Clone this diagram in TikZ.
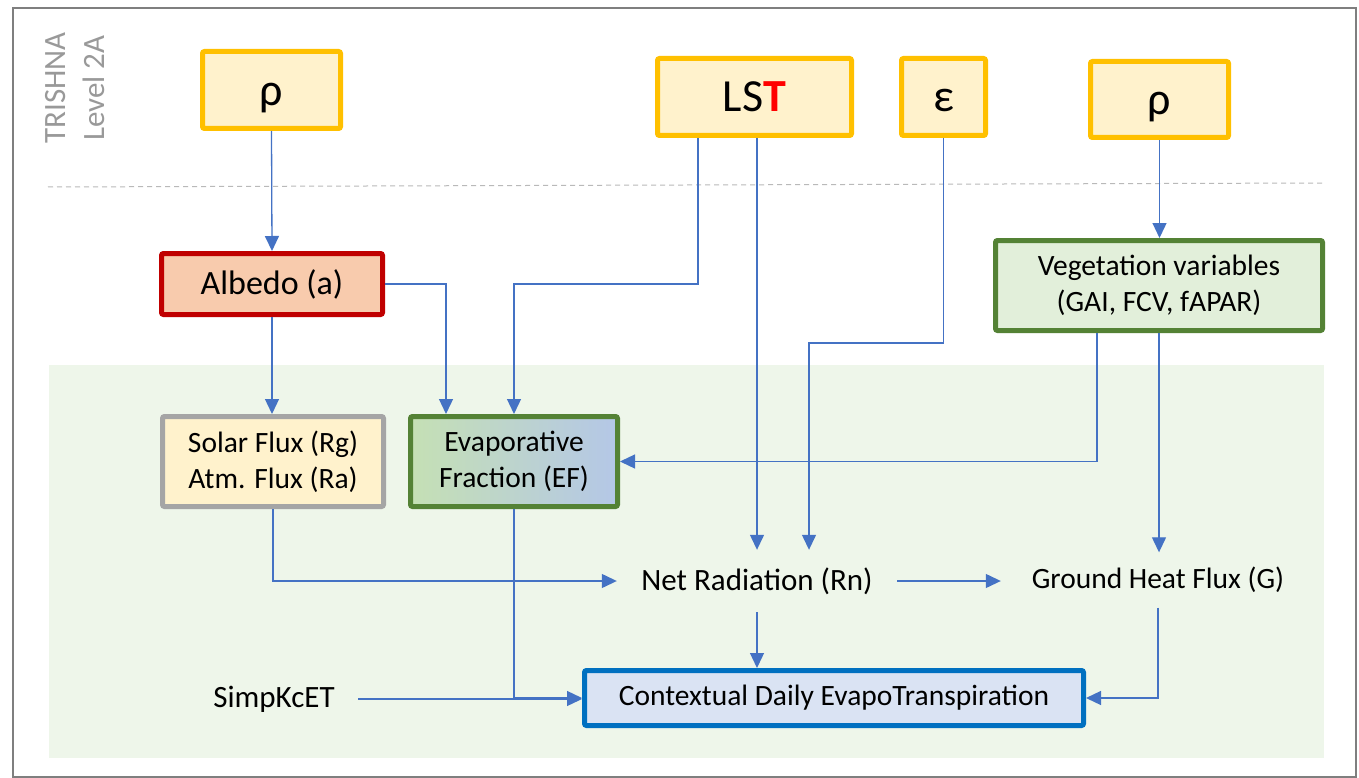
\documentclass[tikz,border=0pt]{standalone}
\usepackage{fontspec}
\setmainfont{Carlito}
\usetikzlibrary{arrows.meta,calc}
\definecolor{inorange}{HTML}{FFC000}
\definecolor{infill}{HTML}{FFF2CC}
\definecolor{albred}{HTML}{C00000}
\definecolor{albfill}{HTML}{F8CBAD}
\definecolor{vgreen}{HTML}{548235}
\definecolor{vfill}{HTML}{E2EFDA}
\definecolor{sgray}{HTML}{A5A5A5}
\definecolor{efleft}{HTML}{C5E0B4}
\definecolor{efright}{HTML}{B4C7E7}
\definecolor{ctxblue}{HTML}{0070C0}
\definecolor{ctxfill}{HTML}{DAE3F3}
\definecolor{arrowblue}{HTML}{4472C4}
\definecolor{bggreen}{HTML}{EEF6EA}
\definecolor{framegray}{HTML}{7F7F7F}
\definecolor{lvlgray}{HTML}{999999}
\definecolor{lstred}{HTML}{FF0000}
\newcommand\fmain{\fontsize{29.5}{36}\selectfont}
\newcommand\fmid{\fontsize{31}{38.5}\selectfont}
\newcommand\falb{\fontsize{34}{40}\selectfont}
\newcommand\fbig{\fontsize{46}{50}\selectfont}
\begin{document}
\begin{tikzpicture}[x=1pt,y=-1pt,
  box/.style={draw, line width=5pt, rounded corners=2pt, align=center, inner sep=0pt, text=black, font=\fmain},
  inbox/.style={box, draw=inorange, fill=infill, minimum height=77pt, font=\fbig},
  conn/.style={draw=arrowblue, line width=1.3pt, -{Triangle[length=15pt,width=14pt]}},
  plain/.style={inner sep=0pt, align=center, text=black, font=\fmain}]
\useasboundingbox (0,0) rectangle (1359,778);
\fill[white] (0,0) rectangle (1359,778);
\fill[bggreen] (49,365) rectangle (1324,758);
\draw[framegray, line width=2pt] (13,8) rectangle (1356,777);
\draw[gray!55, line width=1pt, dash pattern=on 5pt off 4pt] (48,187) -- (1323,183);

\node[rotate=90, align=center, text=lvlgray, inner sep=0pt, font=\fmid] (lvl) at (75,88) {TRISHNA\\Level 2A};

\node[inbox, minimum width=138pt] (rho1) at (271.5,90) {\rule{0pt}{38pt}ρ};
\node[inbox, minimum width=194pt] (LST) at (754.5,97) {LS\textcolor{lstred}{\textbf{T}}};
\node[inbox, minimum width=84pt] (eps) at (943.5,97) {\rule{0pt}{30pt}ε};
\node[inbox, minimum width=138pt, minimum height=76pt] (rho2) at (1159.5,99.5) {\rule{0pt}{38pt}ρ};

\node[box, draw=albred, fill=albfill, minimum width=221pt, minimum height=61pt, font=\falb] (alb) at (272,284) {Albedo (a)};
\node[box, draw=vgreen, fill=vfill, minimum width=327pt, minimum height=90pt] (veg) at (1159,285.5) {Vegetation variables\\(GAI, FCV, fAPAR)};
\node[box, draw=sgray, fill=infill, minimum width=221pt, minimum height=90pt] (sol) at (273,461.5) {Solar Flux (Rg)\\Atm. Flux (Ra)};
\node[box, draw=vgreen, left color=efleft, right color=efright, minimum width=207pt, minimum height=90pt] (EF) at (514,461.5) {Evaporative\\Fraction (EF)};
\node[box, draw=ctxblue, fill=ctxfill, minimum width=499pt, minimum height=55pt] (ctx) at (834,698) {Contextual Daily EvapoTranspiration};

\node[plain, minimum width=280pt, minimum height=62pt, font=\fmid] (NR) at (757,581) {Net Radiation (Rn)};
\node[plain, minimum width=314pt, minimum height=55pt] (GH) at (1158,580) {Ground Heat Flux (G)};
\node[plain, minimum width=168pt, minimum height=40pt, font=\fmid] (sk) at (274,699) {SimpKcET};

\coordinate (b1) at (514,284);
\coordinate (b2) at (809,343);

\draw[conn] (rho1.south) -- (alb.north);
\draw[conn] (alb.south) -- (alb.south |- sol.north);
\draw[conn] (alb.east) -| ([xshift=-68pt]EF.north);
\draw[conn] ([xshift=-56.5pt]LST.south) |- (b1) -- (EF.north);
\draw[conn] (LST.south -| NR.north) -- (NR.north);
\draw[conn] (eps.south) |- (b2) -- (b2 |- NR.north);
\draw[conn] (rho2.south) -- (rho2.south |- veg.north);
\draw[conn] ([xshift=-62pt]veg.south) |- (EF.east);
\draw[conn] (veg.south) -- (veg.south |- GH.north);
\draw[conn] (sol.south) |- (NR.west);
\draw[conn] (NR.east) -- (NR.east -| GH.west);
\draw[conn] (NR.south) -- (NR.south |- ctx.north);
\draw[conn] (EF.south) |- (ctx.west);
\draw[conn] (sk.east) -- (sk.east -| ctx.west);
\draw[conn] (GH.south) |- (ctx.east);
\end{tikzpicture}
\end{document}
